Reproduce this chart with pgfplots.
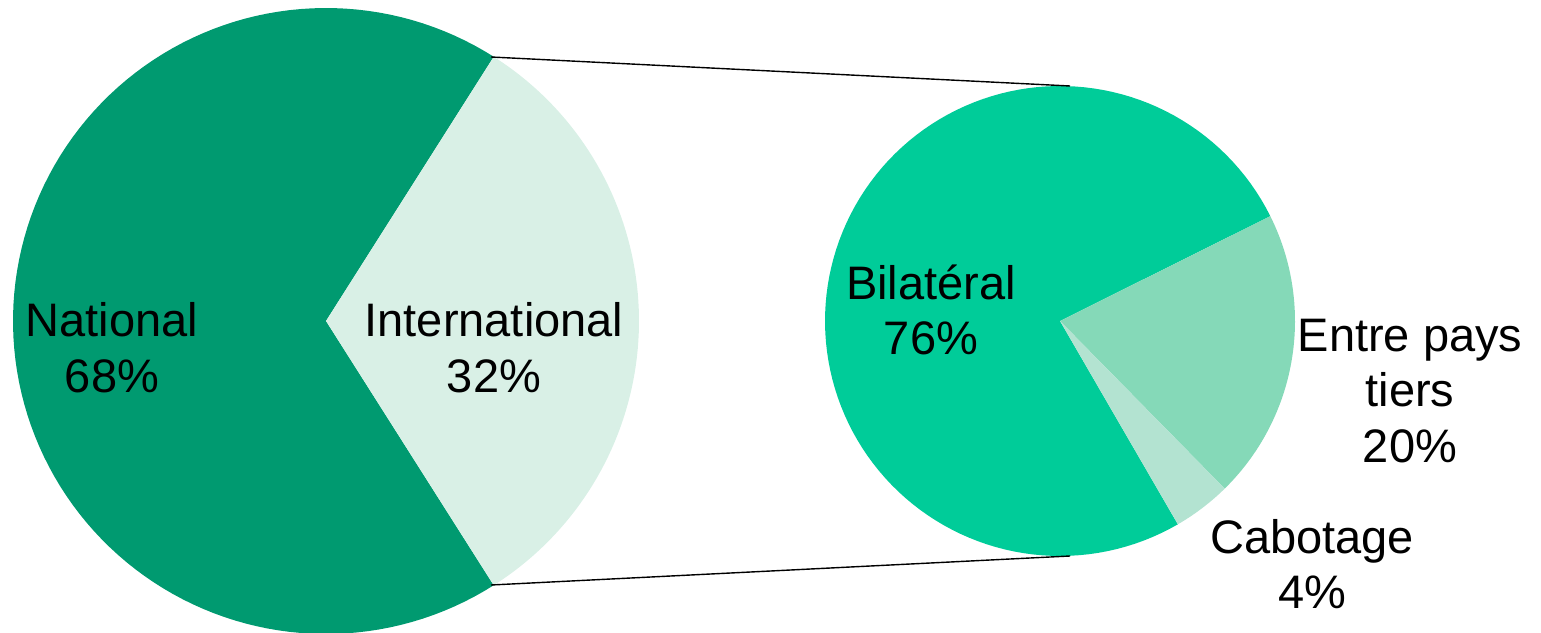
\documentclass[border=0pt]{standalone}
\usepackage{pgfplots}
\pgfplotsset{compat=1.18}
\usepackage{fontspec}
\setmainfont{Liberation Sans}
\definecolor{natc}{HTML}{009A70}
\definecolor{intc}{HTML}{D9F0E6}
\definecolor{bilc}{HTML}{00CC99}
\definecolor{entc}{HTML}{85D9B8}
\definecolor{cabc}{HTML}{B3E3D1}
% values (percent)
\def\vNat{68}\def\vInt{32}
\def\vBil{76}\def\vEnt{20}\def\vCab{4}
\def\rs{26.5}% start angle of second pie
\begin{document}
\begin{tikzpicture}
\begin{axis}[hide axis, scale only axis, x=0.5pt, y=0.5pt,
  xmin=0, xmax=1541, ymin=0, ymax=632, clip=true]
\path (axis cs:0,0) (axis cs:1541,632);
% left pie
\addplot[fill=natc, draw=none, domain={1.8*\vInt}:{360-1.8*\vInt}, samples=120]
  ({326+313*cos(x)}, {311+313*sin(x)}) -- (axis cs:326,311) -- cycle;
\addplot[fill=intc, draw=none, domain={-1.8*\vInt}:{1.8*\vInt}, samples=80]
  ({326+313*cos(x)}, {311+313*sin(x)}) -- (axis cs:326,311) -- cycle;
% right pie
\addplot[fill=bilc, draw=none, domain={\rs}:{\rs+3.6*\vBil}, samples=120]
  ({1060+235*cos(x)}, {311+235*sin(x)}) -- (axis cs:1060,311) -- cycle;
\addplot[fill=entc, draw=none, domain={\rs-3.6*\vEnt}:{\rs}, samples=60]
  ({1060+235*cos(x)}, {311+235*sin(x)}) -- (axis cs:1060,311) -- cycle;
\addplot[fill=cabc, draw=none, domain={\rs-3.6*(\vEnt+\vCab)}:{\rs-3.6*\vEnt}, samples=30]
  ({1060+235*cos(x)}, {311+235*sin(x)}) -- (axis cs:1060,311) -- cycle;
% connector lines
\addplot[black, line width=0.7pt] coordinates {(491,575) (1070,546)};
\addplot[black, line width=0.7pt] coordinates {(491,47) (1070,76)};
% labels
\tikzset{lab/.style={align=center, font=\fontsize{23.5}{27.5}\selectfont, inner sep=0pt, anchor=base}}
\node[lab] at (axis cs:112,240) {National\\68\%};
\node[lab] at (axis cs:494,240) {International\\32\%};
\node[lab] at (axis cs:931,277) {Bilatéral\\76\%};
\node[lab] at (axis cs:1410,170) {Entre pays\\tiers\\20\%};
\node[lab] at (axis cs:1312,24) {Cabotage\\4\%};
\end{axis}
\end{tikzpicture}
\end{document}
